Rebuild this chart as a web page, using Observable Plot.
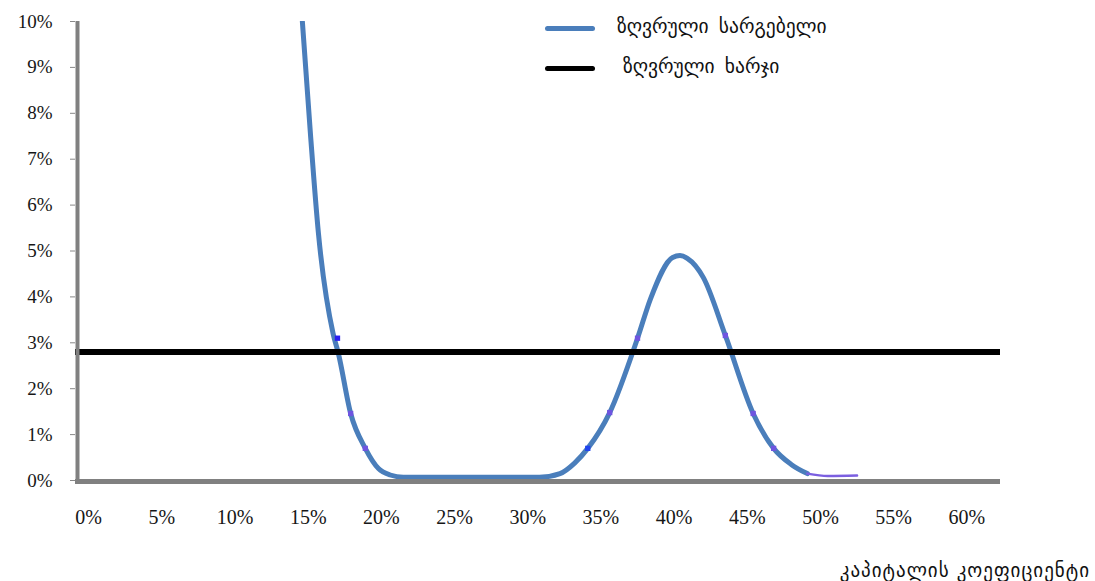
<!DOCTYPE html>
<html>
<head>
<meta charset="utf-8">
<script src="https://cdn.jsdelivr.net/npm/d3@7"></script>
<script src="https://cdn.jsdelivr.net/npm/@observablehq/plot@0.6"></script>
<style>
  html, body { margin: 0; padding: 0; background: #fff; }
  #wrap { position: relative; width: 1095px; height: 581px; }
  .leg-line { position: absolute; height: 5px; border-radius: 3px; }
  .leg-text { position: absolute; font-family: "DejaVu Sans", sans-serif; font-size: 19.5px; word-spacing: 4px; color: #111; white-space: nowrap; line-height: 1; }
  #xtitle { position: absolute; font-family: "DejaVu Sans", sans-serif; font-size: 19px; letter-spacing: 1px; color: #111; white-space: nowrap; line-height: 1; }
</style>
</head>
<body>
<div id="wrap"></div>
<script>
// ---- data (percent) ----
const seriesNames = ["ზღვრული სარგებელი", "ზღვრული ხარჯი"];
const xTitle = "კაპიტალის კოეფიციენტი";
const xTicks = [0, 5, 10, 15, 20, 25, 30, 35, 40, 45, 50, 55, 60];
const yTicks = [0, 1, 2, 3, 4, 5, 6, 7, 8, 9, 10];

// marginal benefit curve
const benefitX = [14.6, 15.15, 15.7, 16.7, 17.06, 17.9, 18.9, 19.8, 20.6, 21.5,
                  30.8, 32.2, 33.2, 34.1, 35.6, 37.5, 38.4, 39.9, 40.4, 40.9, 42.0, 43.5, 45.4, 46.8, 48.0, 49.1];
const benefitY = [10.0, 7.56, 5.38, 3.2, 2.77, 1.46, 0.70, 0.26, 0.12, 0.07,
                  0.07, 0.15, 0.38, 0.70, 1.48, 3.10, 3.97, 4.86, 4.90, 4.84, 4.42, 3.16, 1.46, 0.70, 0.35, 0.15];
// faint tail after the bump
const tailX = [49.1, 50.5, 52.5];
const tailY = [0.15, 0.10, 0.11];
// marginal cost (flat)
const costY = 2.8;
// small data-point markers visible on the curve
const markerX = [17.0, 17.9, 18.9, 34.1, 35.6, 37.5, 43.5, 45.4, 46.8];
const markerY = [3.1, 1.46, 0.70, 0.70, 1.48, 3.1, 3.16, 1.46, 0.70];
const markerC = ["#2a1ef2", "#6e55e0", "#6e55e0", "#1f44ee", "#6e55e0", "#6e55e0", "#6e55e0", "#6e55e0", "#6e55e0"];

const benefit = benefitX.map((x, i) => ({x, y: benefitY[i]}));
const tail = tailX.map((x, i) => ({x, y: tailY[i]}));
const markers = markerX.map((x, i) => ({x, y: markerY[i], c: markerC[i]}));

const plot = Plot.plot({
  width: 1095,
  height: 581,
  marginLeft: 75,
  marginRight: 95,
  marginTop: 21,
  marginBottom: 101,
  style: {background: "#fff", fontFamily: "'Liberation Serif', serif", fontSize: "19px", color: "#161616"},
  x: {domain: [-0.9, 62.3]},
  y: {domain: [0, 10]},
  marks: [
    Plot.axisY({ticks: yTicks, tickFormat: d => d + "%", tickSize: 5, tickPadding: 18, stroke: "#888", label: null, fontSize: 19}),
    Plot.axisX({ticks: xTicks, tickFormat: d => d + "%", tickSize: 0, tickPadding: 29, label: null, fontSize: 20}),
    Plot.line(benefit, {x: "x", y: "y", curve: "monotone-x", stroke: "#4a7ebb", strokeWidth: 5, clip: true}),
    Plot.line(tail, {x: "x", y: "y", curve: "monotone-x", stroke: "#7b5fe0", strokeWidth: 2.5}),
    Plot.dot(markers, {x: "x", y: "y", symbol: "square", r: 3, fill: "c", stroke: null}),
    Plot.ruleY([costY], {stroke: "#000", strokeWidth: 6}),
    Plot.ruleX([-0.9], {stroke: "#808080", strokeWidth: 4, dx: 2, y1: 0, y2: 10}),
    Plot.ruleY([0], {stroke: "#808080", strokeWidth: 5, dy: 1})
  ]
});

const wrap = document.getElementById("wrap");
wrap.appendChild(plot);

// legend
function legendItem(color, label, top, textLeft) {
  const l = document.createElement("div");
  l.className = "leg-line";
  l.style.left = "545px"; l.style.top = (top - 2) + "px"; l.style.width = "50px"; l.style.background = color;
  wrap.appendChild(l);
  const t = document.createElement("div");
  t.className = "leg-text";
  t.style.left = textLeft + "px"; t.style.top = (top - 11) + "px";
  t.textContent = label;
  wrap.appendChild(t);
}
legendItem("#4a7ebb", seriesNames[0], 28, 617);
legendItem("#000", seriesNames[1], 68, 623);

const xt = document.createElement("div");
xt.id = "xtitle";
xt.style.right = "5px"; xt.style.top = "561px";
xt.textContent = xTitle;
wrap.appendChild(xt);
</script>
</body>
</html>
